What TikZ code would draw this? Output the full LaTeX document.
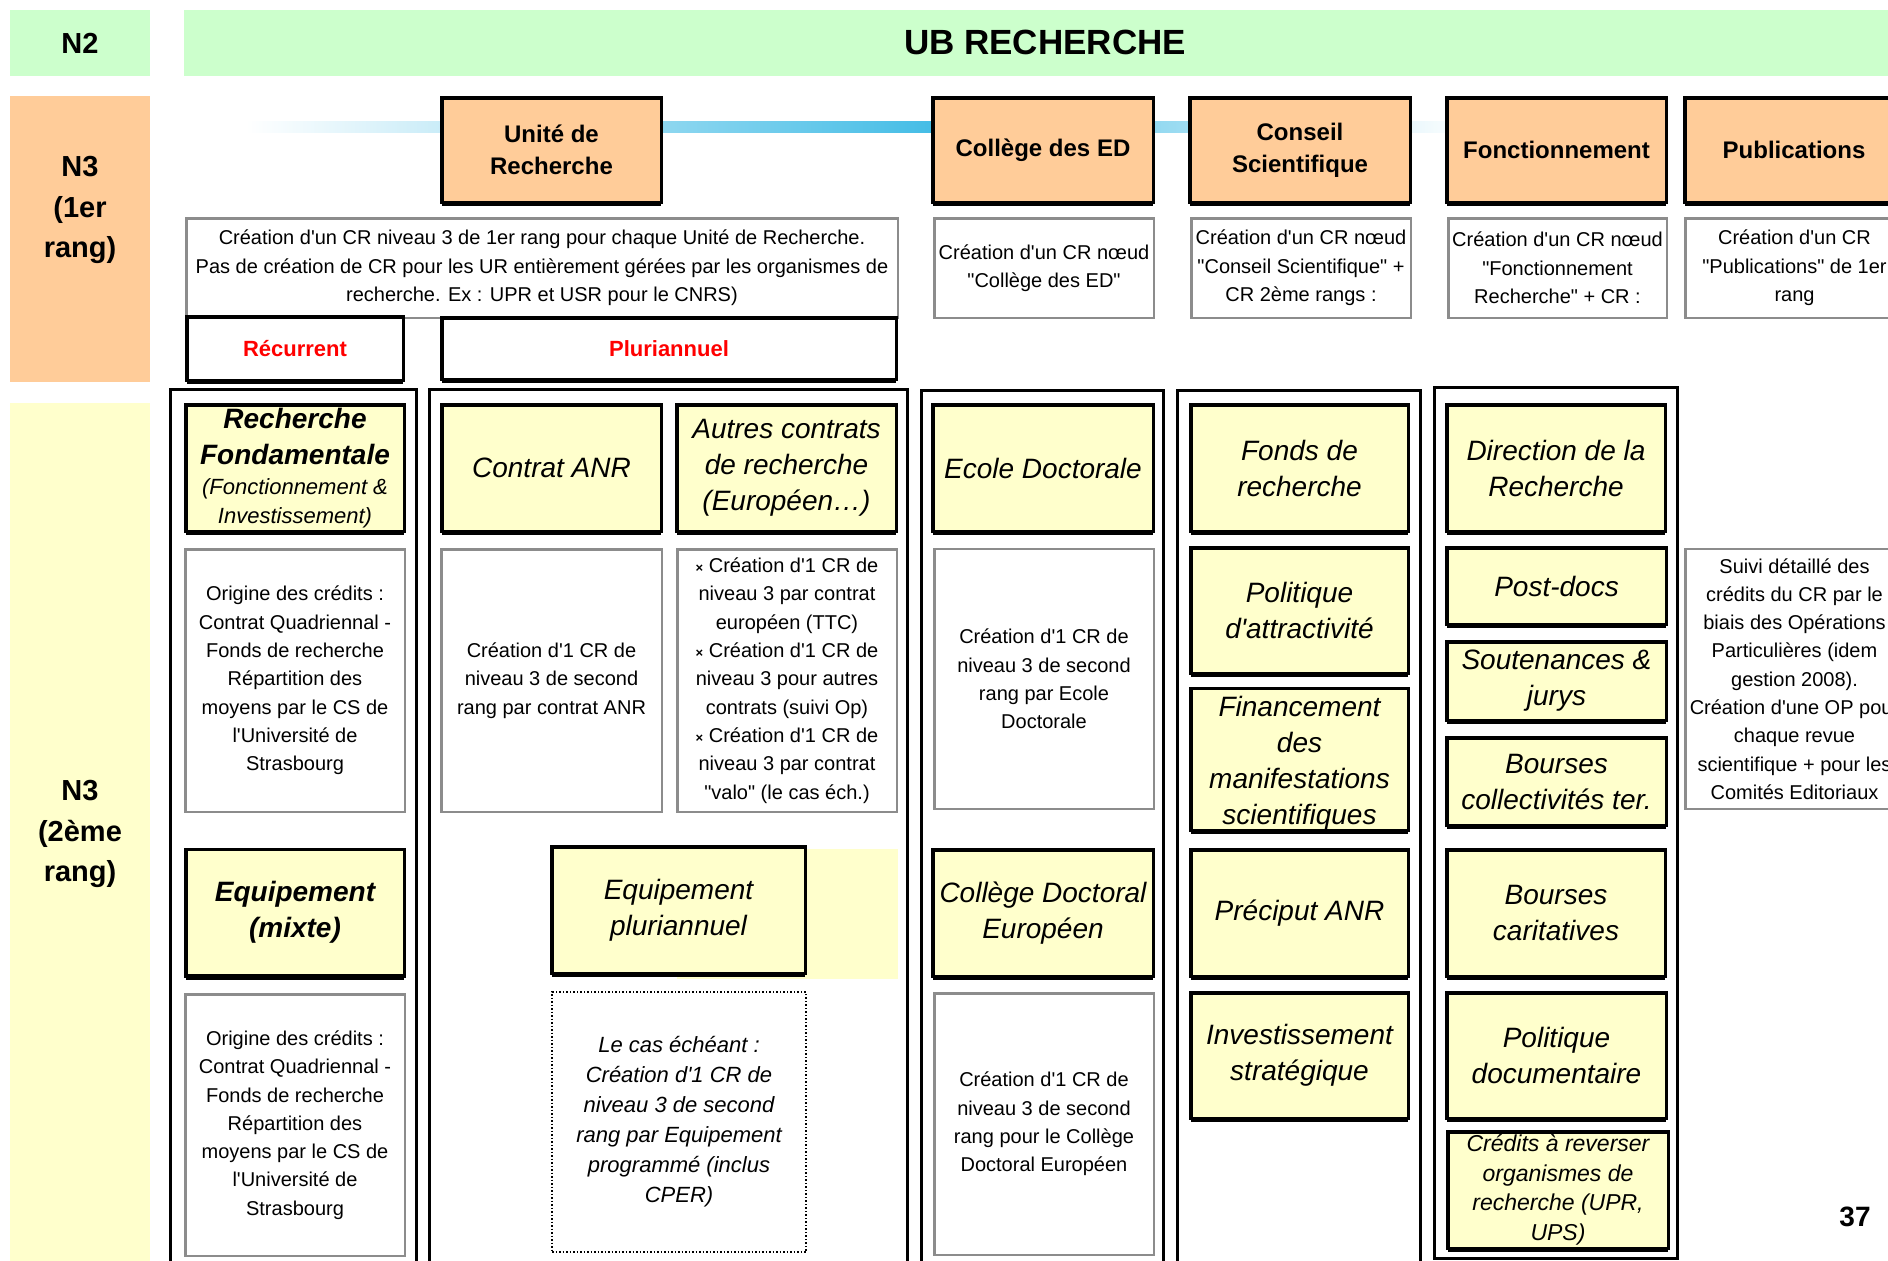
\documentclass[tikz,border=0pt]{standalone}
\usepackage{fontspec}
\setmainfont{Liberation Sans}[Ligatures=TeXOff]
\definecolor{cgreen}{HTML}{CCFFCC}
\definecolor{cpeach}{HTML}{FFCC99}
\definecolor{cyell}{HTML}{FFFFCC}
\definecolor{cblue}{HTML}{45BDE6}
\definecolor{cgrayb}{HTML}{8C8C8C}
\newcommand\myfs[2]{\fontsize{#1}{#2}\selectfont}
\begin{document}
\begin{tikzpicture}[x=1pt,y=-1pt,
  every node/.style={inner sep=0pt, outer sep=0pt, align=center},
  lvlbox/.style={fill=#1, draw=none},
  botshadow/.style={preaction={fill=black, transform canvas={yshift=-4pt}}},
  hdrbox/.style={fill=cpeach, draw=black, line width=3.5pt, botshadow, font=\myfs{24}{32}\bfseries, minimum height=104.5pt},
  descbox/.style={fill=white, draw=cgrayb, line width=2.5pt, font=\myfs{20}{28.3}},
  ybox/.style={fill=cyell, draw=black, line width=3.5pt, botshadow, font=\myfs{28}{36}\itshape},
  colframe/.style={draw=black, line width=3pt},
  tagbox/.style={fill=white, draw=black, line width=3.5pt, botshadow, text=red, font=\myfs{22}{26}\bfseries},
]
\useasboundingbox (0,0) rectangle (1888,1261);
\clip (0,0) rectangle (1888,1261);
\fill[white] (0,0) rectangle (1888,1261);

% ---- level bands
\node[lvlbox=cgreen, minimum width=140pt, minimum height=66pt, font=\myfs{29}{36}\bfseries] (n2) at (80,43) {N2};
\node[lvlbox=cgreen, minimum width=1704pt, minimum height=66pt] (ub) at (1036,43) {};
\node[font=\myfs{35}{40}\bfseries] (ubtxt) at (1045,42) {UB RECHERCHE};
\node[lvlbox=cpeach, minimum width=140pt, minimum height=286pt] (n3a) at (80,239) {};
\node[font=\myfs{29}{40.5}\bfseries] (n3atxt) at (80,210) {N3\\(1er\\rang)};
\node[lvlbox=cyell, minimum width=140pt, minimum height=880pt] (n3b) at (80,843) {};
\node[font=\myfs{29}{40.5}\bfseries] (n3btxt) at (80,834) {N3\\(2ème\\rang)};

% ---- gradient bar
\shade[left color=white, right color=cblue] (246,121) rectangle (930,132);
\shade[left color=cblue, right color=cblue!55!white] (930,121) rectangle (1170,132);
\shade[left color=cblue!55!white, right color=white] (1170,121) rectangle (1470,132);

% ---- N3 1er rang headers
\node[hdrbox, minimum width=219.5pt] (ur) at (551.5,150) {Unité de\\Recherche};
\node[hdrbox, minimum width=220.5pt] (ced) at (1043,150) {Collège des ED};
\node[hdrbox, minimum width=220.5pt] (cs) at (1300,150) {Conseil\\Scientifique};
\node[hdrbox, minimum width=219.5pt] (fonc) at (1556.5,150) {Fonctionnement};
\node[hdrbox, minimum width=218.5pt] (pub) at (1794,150) {Publications};

% ---- descriptions row 1
\node[descbox, minimum width=711.5pt, minimum height=99.5pt] (dur) at (542,268) {Création d'un CR niveau 3 de 1er rang pour chaque Unité de Recherche.\\Pas de création de CR pour les UR entièrement gérées par les organismes de\\recherche. Ex : UPR et USR pour le CNRS)};
\node[descbox, minimum width=219.5pt, minimum height=99.5pt] (dced) at (1044,268) {Création d'un CR nœud\\"Collège des ED"};
\node[descbox, minimum width=219.5pt, minimum height=99.5pt] (dcs) at (1301,268) {Création d'un CR nœud\\"Conseil Scientifique" +\\CR 2ème rangs :};
\node[descbox, minimum width=218.5pt, minimum height=99.5pt] (dfonc) at (1557.5,268) {Création d'un CR nœud\\"Fonctionnement\\Recherche" + CR :};
\node[descbox, minimum width=218.5pt, minimum height=99.5pt] (dpub) at (1794.5,268) {Création d'un CR\\"Publications" de 1er\\rang};

% ---- tags
\node[tagbox, minimum width=216.5pt, minimum height=63.5pt] (rec) at (295,348.5) {Récurrent};
\node[tagbox, minimum width=454.5pt, minimum height=61.5pt] (plu) at (669,348.5) {Pluriannuel};

% ---- column frames
\draw[colframe] (170,389) rectangle (416,1290);
\draw[colframe] (429,389) rectangle (907,1290);
\draw[colframe] (921,390) rectangle (1163,1290);
\draw[colframe] (1177,390) rectangle (1420,1290);
\draw[colframe] (1434,387) rectangle (1677,1258);

% ---- row A (yellow)
\node[ybox, minimum width=218.5pt, minimum height=126.5pt] (rf) at (295,468) {{\bfseries Recherche}\\{\bfseries Fondamentale}\\[-6pt]{\myfs{22}{28}(Fonctionnement \&}\\[-7pt]{\myfs{22}{28}Investissement)}};
\node[ybox, minimum width=219.5pt, minimum height=126.5pt] (anr) at (551.5,468) {Contrat ANR};
\node[ybox, minimum width=219.5pt, minimum height=126.5pt] (aut) at (786.5,468) {Autres contrats\\de recherche\\(Européen…)};
\node[ybox, minimum width=220.5pt, minimum height=126.5pt] (ed) at (1043,468) {Ecole Doctorale};
\node[ybox, minimum width=217.5pt, minimum height=126.5pt] (fdr) at (1299.5,468) {Fonds de\\recherche};
\node[ybox, minimum width=218.5pt, minimum height=126.5pt] (dir) at (1556,468) {Direction de la\\Recherche};

% ---- row A descriptions
\node[descbox, minimum width=219.5pt, minimum height=262.5pt] (drf) at (295,680.5) {Origine des crédits :\\Contrat Quadriennal -\\Fonds de recherche\\Répartition des\\moyens par le CS de\\l'Université de\\Strasbourg};
\node[descbox, minimum width=220.5pt, minimum height=262.5pt] (danr) at (551.5,680.5) {Création d'1 CR de\\niveau 3 de second\\rang par contrat ANR};
\node[descbox, minimum width=219.5pt, minimum height=262.5pt] (daut) at (787,680.5) {{\myfs{13}{13}\bfseries ×} Création d'1 CR de\\niveau 3 par contrat\\européen (TTC)\\{\myfs{13}{13}\bfseries ×} Création d'1 CR de\\niveau 3 pour autres\\contrats (suivi Op)\\{\myfs{13}{13}\bfseries ×} Création d'1 CR de\\niveau 3 par contrat\\"valo" (le cas éch.)};
\node[descbox, minimum width=219.5pt, minimum height=260pt] (ded) at (1044,679) {Création d'1 CR de\\niveau 3 de second\\rang par Ecole\\Doctorale};
\node[descbox, minimum width=218.5pt, minimum height=260pt] (dpub2) at (1794.5,679) {Suivi détaillé des\\crédits du CR par le\\biais des Opérations\\Particulières (idem\\gestion 2008).\\Création d'une OP pour\\chaque revue\\scientifique + pour les\\Comités Editoriaux};

% ---- column 4 and 5 middle boxes
\node[ybox, minimum width=217.5pt, minimum height=125.5pt] (pol) at (1299.5,610.5) {Politique\\d'attractivité};
\node[ybox, minimum width=217.5pt, minimum height=141.5pt] (fin) at (1299.5,759.5) {\\[-8pt]Financement\\des\\manifestations\\scientifiques};
\node[ybox, minimum width=219.5pt, minimum height=76.5pt] (pd) at (1556.5,586) {Post-docs};
\node[ybox, minimum width=219.5pt, minimum height=78.5pt] (sout) at (1556.5,681) {Soutenances \&\\jurys};
\node[ybox, minimum width=219.5pt, minimum height=87.5pt] (bct) at (1556.5,781.5) {Bourses\\collectivités ter.};

% ---- row B
\fill[cyell] (677,849) rectangle (898,979);
\node[ybox, minimum width=218.5pt, minimum height=126.5pt, font=\myfs{28}{36}\bfseries\itshape] (eqm) at (295,912.5) {Equipement\\(mixte)};
\node[ybox, minimum width=253.5pt, minimum height=126.5pt] (eqp) at (678.5,910) {Equipement\\pluriannuel};
\node[ybox, minimum width=220.5pt, minimum height=126.5pt] (cde) at (1043,913) {Collège Doctoral\\Européen};
\node[ybox, minimum width=217.5pt, minimum height=126.5pt] (prec) at (1299.5,913) {Préciput ANR};
\node[ybox, minimum width=218.5pt, minimum height=126.5pt] (bcar) at (1556,913) {Bourses\\caritatives};

\node[descbox, minimum width=219.5pt, minimum height=261.5pt] (deqm) at (295,1125) {Origine des crédits :\\Contrat Quadriennal -\\Fonds de recherche\\Répartition des\\moyens par le CS de\\l'Université de\\Strasbourg};
\node[fill=white, draw=black, dotted, line width=1.5pt, minimum width=254pt, minimum height=260pt, font=\myfs{22}{30}\itshape] (ddot) at (679,1122) {Le cas échéant :\\Création d'1 CR de\\niveau 3 de second\\rang par Equipement\\programmé (inclus\\CPER)};
\node[descbox, minimum width=219.5pt, minimum height=261.5pt] (dcde) at (1044,1124) {Création d'1 CR de\\niveau 3 de second\\rang pour le Collège\\Doctoral Européen};

\node[ybox, minimum width=217.5pt, minimum height=125.5pt] (inv) at (1299.5,1055.5) {Investissement\\stratégique};
\node[ybox, minimum width=219.5pt, minimum height=125.5pt] (pdoc) at (1556.5,1055.5) {Politique\\documentaire};
\node[ybox, minimum width=220.5pt, minimum height=116.5pt, font=\myfs{23}{29.5}\itshape] (cred) at (1558,1190) {Crédits à reverser\\organismes de\\recherche (UPR,\\UPS)};

\node[font=\myfs{28}{32}\bfseries] (pgnum) at (1855,1217) {37};
\end{tikzpicture}
\end{document}
